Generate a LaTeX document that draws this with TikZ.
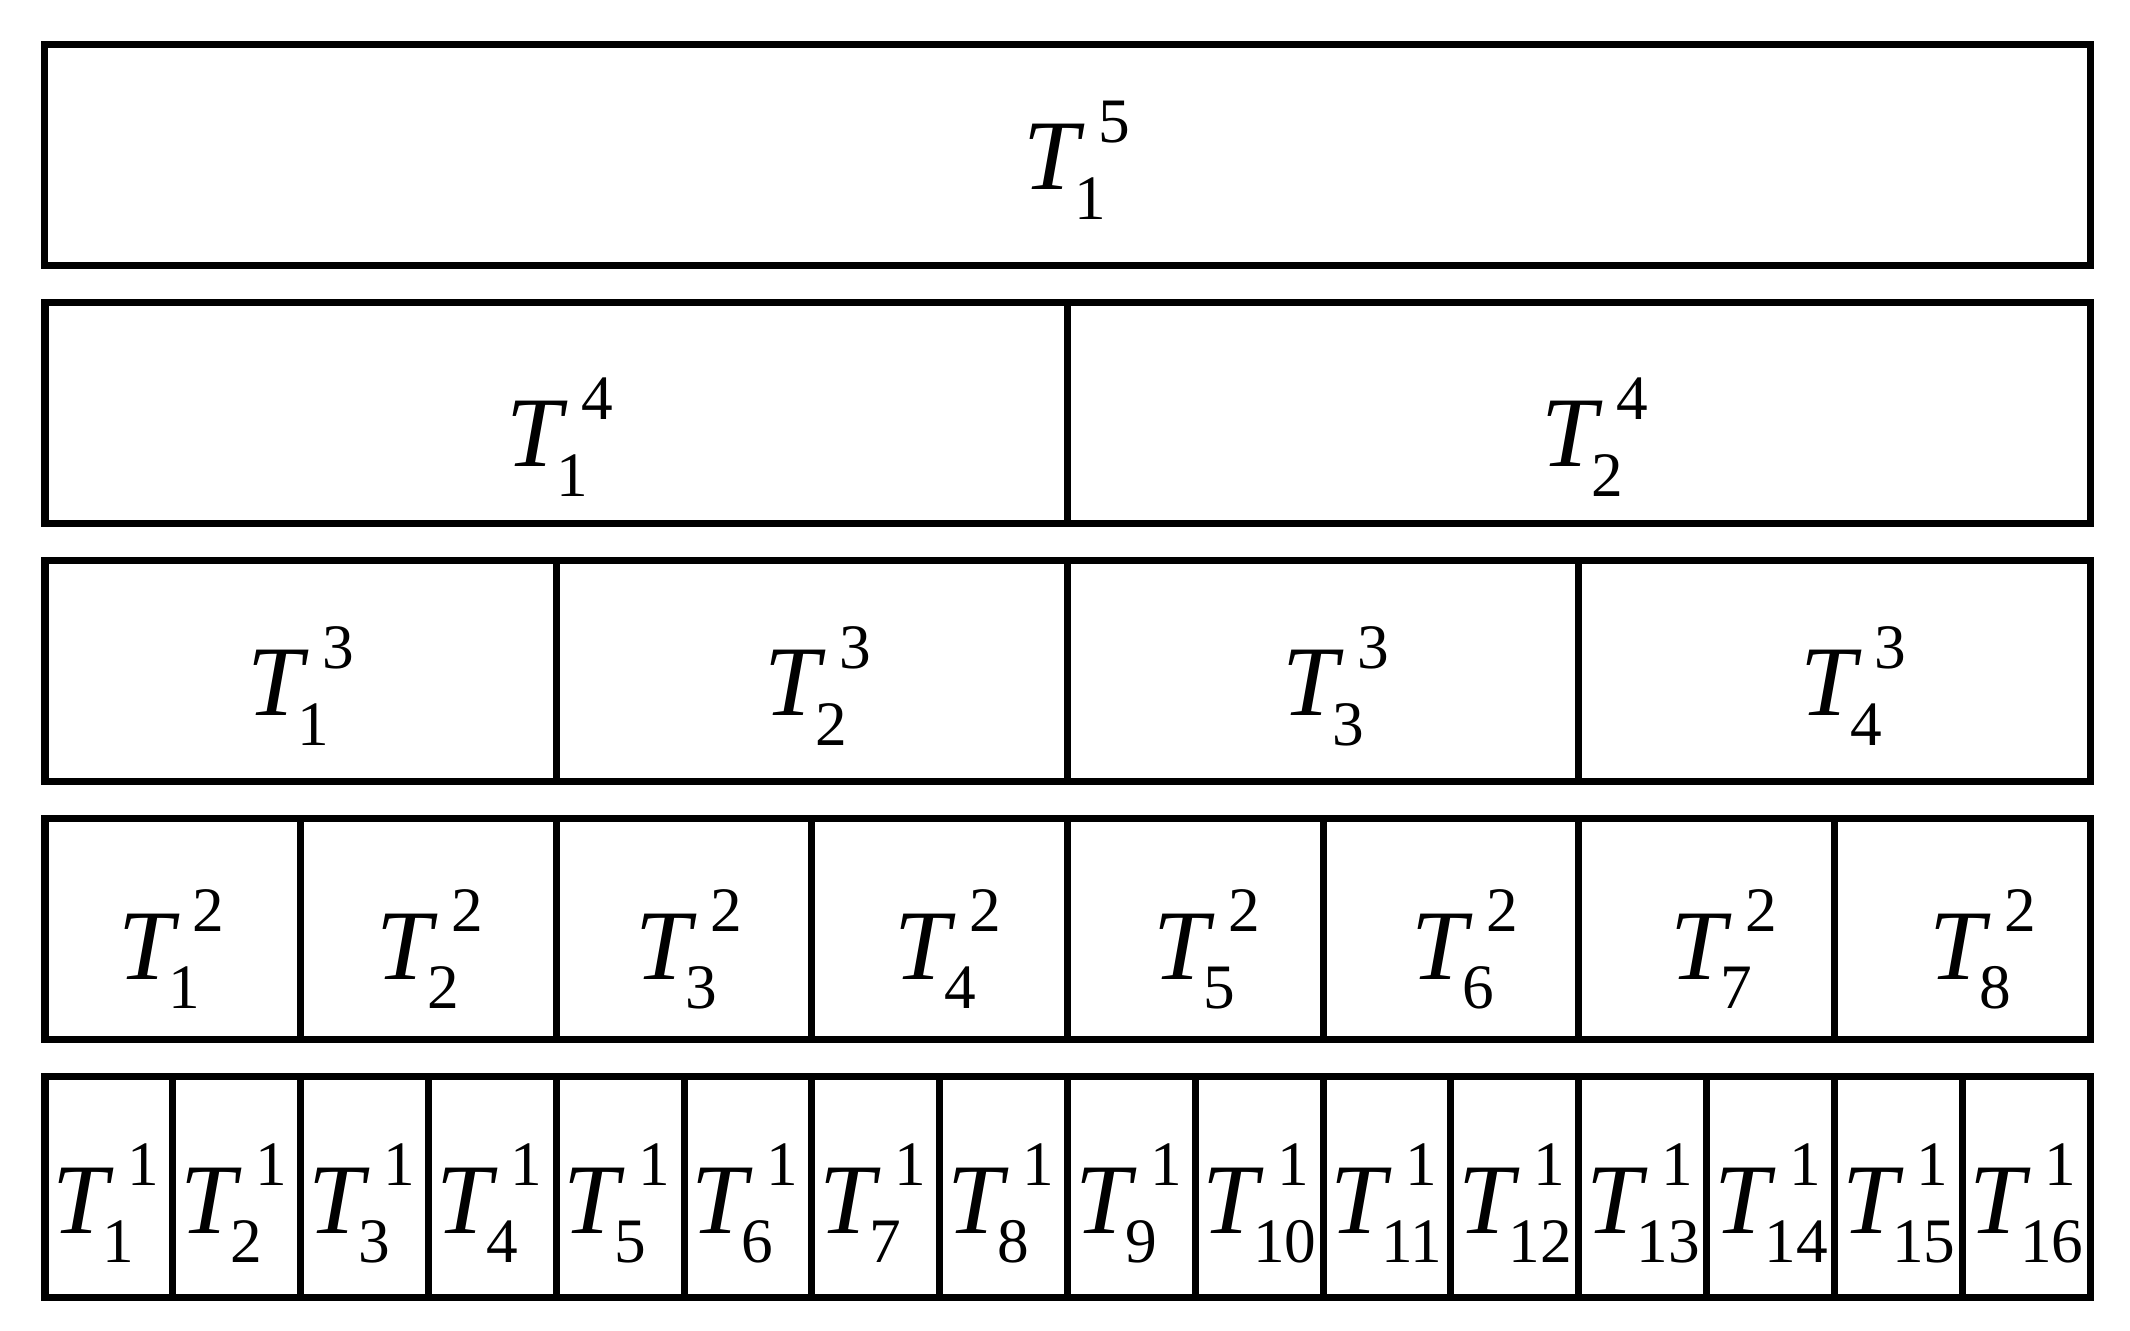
\documentclass[tikz,border=0pt]{standalone}
\usepackage{fontspec}
\setmainfont{Liberation Serif}
\newcommand{\tlab}[2]{\fontsize{28.4pt}{30pt}\selectfont{\itshape T}\rlap{\kern-1.5pt\raisebox{-8.3pt}{\fontsize{18pt}{20pt}\selectfont #1}}\kern5.5pt\raisebox{13.4pt}{\fontsize{18pt}{20pt}\selectfont #2}}
\begin{document}
\begin{tikzpicture}[x=0.01cm,y=-0.01cm]
\tikzset{
  cellbox/.style={draw=black,line width=2pt,inner sep=0pt,outer sep=0pt,minimum height=2.2cm},
  labnode/.style={anchor=base,inner sep=0pt,outer sep=0pt}
}
\useasboundingbox (0,0) rectangle (2130,1331);
\foreach \r/\bo in {1/145,2/164,3/155,4/160,5/156}{
  \pgfmathtruncatemacro\n{2^(\r-1)}
  \pgfmathsetmacro\w{2045/\n}
  \pgfmathsetmacro\wcm{\w*0.01}
  \pgfmathsetmacro\ytop{45+258*(\r-1)}
  \pgfmathtruncatemacro\supn{6-\r}
  \pgfmathsetmacro\dr{\r<5 ? 25 : 0}
  \foreach \i in {1,...,\n}{
    \pgfmathsetmacro\cx{45+\w*(\i-0.5)}
    \pgfmathsetmacro\lx{\cx-3+\dr*((\cx-45)/2045)}
    \node[labnode] (lab-\r-\i) at (\lx,\ytop+\bo) {\tlab{\i}{\supn}};
    \node[cellbox,minimum width=\wcm cm] (cell-\r-\i) at (\cx,\ytop+110) {};
  }
}
\end{tikzpicture}
\end{document}
